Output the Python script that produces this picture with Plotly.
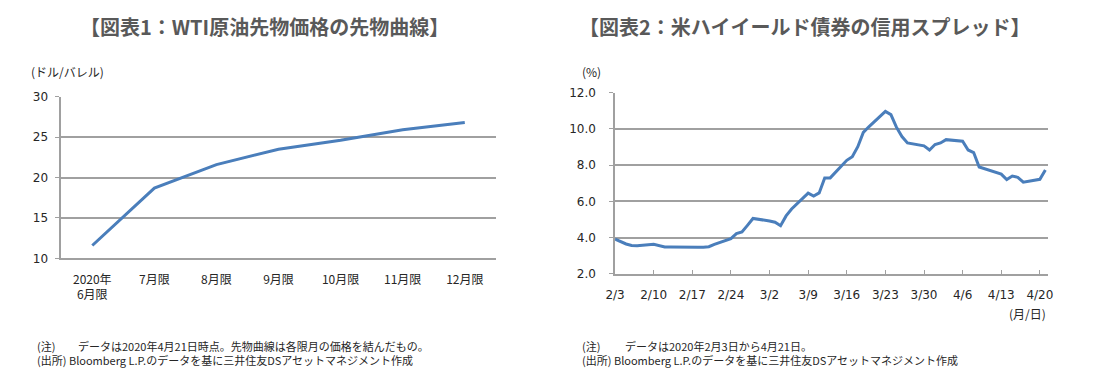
import plotly.graph_objects as go

# ---------- Chart 1 data ----------
curve_labels = ["2020年<br>6月限", "7月限", "8月限", "9月限", "10月限", "11月限", "12月限"]
curve_values = [11.6, 18.7, 21.6, 23.5, 24.6, 25.9, 26.8]

# ---------- Chart 2 data ----------
spread_dates = [
    "2020-02-03", "2020-02-04", "2020-02-05", "2020-02-06", "2020-02-07",
    "2020-02-10", "2020-02-11", "2020-02-12", "2020-02-13", "2020-02-14",
    "2020-02-18", "2020-02-19", "2020-02-20", "2020-02-21",
    "2020-02-24", "2020-02-25", "2020-02-26", "2020-02-27", "2020-02-28",
    "2020-03-02", "2020-03-03", "2020-03-04", "2020-03-05", "2020-03-06",
    "2020-03-09", "2020-03-10", "2020-03-11", "2020-03-12", "2020-03-13",
    "2020-03-16", "2020-03-17", "2020-03-18", "2020-03-19", "2020-03-20",
    "2020-03-23", "2020-03-24", "2020-03-25", "2020-03-26", "2020-03-27",
    "2020-03-30", "2020-03-31", "2020-04-01", "2020-04-02", "2020-04-03",
    "2020-04-06", "2020-04-07", "2020-04-08", "2020-04-09",
    "2020-04-13", "2020-04-14", "2020-04-15", "2020-04-16", "2020-04-17",
    "2020-04-20", "2020-04-21",
]
spread_values = [
    3.92, 3.78, 3.65, 3.57, 3.55,
    3.63, 3.57, 3.48, 3.48, 3.47,
    3.47, 3.47, 3.50, 3.63,
    3.95, 4.22, 4.31, 4.68, 5.06,
    4.92, 4.85, 4.66, 5.20, 5.58,
    6.46, 6.30, 6.47, 7.30, 7.30,
    8.27, 8.47, 9.02, 9.81, 10.12,
    10.97, 10.79, 10.10, 9.58, 9.23,
    9.07, 8.84, 9.14, 9.23, 9.41,
    9.32, 8.84, 8.70, 7.90,
    7.51, 7.21, 7.40, 7.33, 7.06,
    7.22, 7.74,
]
week_ticks = ["2020-02-03", "2020-02-10", "2020-02-17", "2020-02-24", "2020-03-02",
              "2020-03-09", "2020-03-16", "2020-03-23", "2020-03-30", "2020-04-06",
              "2020-04-13", "2020-04-20"]
week_labels = ["2/3", "2/10", "2/17", "2/24", "3/2", "3/9", "3/16", "3/23", "3/30",
               "4/6", "4/13", "4/20"]

W, H = 1099, 383
LINE = "#4a7ebb"
GRID = "#a0a0a0"
TXT = "#262626"
FONT = "DejaVu Sans, Noto Sans CJK JP, sans-serif"
JFONT = "Noto Sans CJK JP, sans-serif"

def px(x):
    return x / W

def py(y):
    return 1 - y / H

fig = go.Figure()
fig.add_trace(go.Scatter(x=curve_labels, y=curve_values, mode="lines",
                         line=dict(color=LINE, width=3), xaxis="x", yaxis="y",
                         showlegend=False))
fig.add_trace(go.Scatter(x=spread_dates, y=spread_values, mode="lines",
                         line=dict(color=LINE, width=3), xaxis="x2", yaxis="y2",
                         showlegend=False))

tickfont = dict(family=FONT, size=12, color=TXT)
cattickfont = dict(family=JFONT, size=12, color=TXT)

fig.update_layout(
    width=W, height=H,
    margin=dict(l=0, r=0, t=0, b=0),
    paper_bgcolor="white", plot_bgcolor="white",
    xaxis=dict(domain=[px(52), px(493)], anchor="y", type="category",
               range=[-0.5, 6.5], showgrid=False, showline=True,
               linecolor=GRID, linewidth=1.5, ticks="", tickfont=cattickfont,
               ticklabelstandoff=9, fixedrange=True),
    yaxis=dict(domain=[py(261), py(93)], anchor="x", range=[10, 30], dtick=5,
               showgrid=True, gridcolor=GRID, gridwidth=1.5, showline=True,
               linecolor=GRID, linewidth=1.5, ticks="outside", ticklen=4,
               tickcolor=GRID, tickfont=tickfont, ticklabelstandoff=5,
               zeroline=False),
    xaxis2=dict(domain=[px(614), px(1053)], anchor="y2", type="date",
                range=["2020-02-03", "2020-04-21 10:00"],
                tickvals=week_ticks, ticktext=week_labels,
                showgrid=False, showline=True, linecolor=GRID, linewidth=1.5,
                ticks="inside", ticklen=4, tickcolor=GRID, tickfont=tickfont,
                ticklabelstandoff=9),
    yaxis2=dict(domain=[py(277), py(89)], anchor="x2", range=[2, 12], dtick=2,
                tickformat=".1f", showgrid=True, gridcolor=GRID, gridwidth=1.5,
                showline=True, linecolor=GRID, linewidth=1.5, ticks="outside",
                ticklen=4, tickcolor=GRID, tickfont=tickfont,
                ticklabelstandoff=11, zeroline=False),
)

def ann(text, x, y, size=11, xanchor="left", bold=False, color=TXT, family=JFONT):
    fig.add_annotation(text=f"<b>{text}</b>" if bold else text,
                       x=px(x), y=py(y), xref="paper", yref="paper",
                       xanchor=xanchor, yanchor="middle", showarrow=False,
                       font=dict(family=family, size=size, color=color))

ann("【図表1：WTI原油先物価格の先物曲線】", 258, 20, size=20, xanchor="center",
    bold=True, color="#595959")
ann("【図表2：米ハイイールド債券の信用スプレッド】", 806, 20, size=20, xanchor="center",
    bold=True, color="#595959")
ann("(ドル/バレル)", 19, 67, size=12)
ann("(%)", 578, 67, size=12)
ann("(月/日)", 1053, 318, size=12, xanchor="right")

ann("(注)", 25, 352, size=11)
ann("データは2020年4月21日時点。先物曲線は各限月の価格を結んだもの。", 67, 352, size=11)
ann("(出所) Bloomberg L.P.のデータを基に三井住友DSアセットマネジメント作成", 25, 366, size=11)

ann("(注)", 578, 352, size=11)
ann("データは2020年2月3日から4月21日。", 622, 352, size=11)
ann("(出所) Bloomberg L.P.のデータを基に三井住友DSアセットマネジメント作成", 578, 366, size=11)

fig.write_html("out.html", config={"displayModeBar": False},
               post_script="document.body.style.margin='0';")
